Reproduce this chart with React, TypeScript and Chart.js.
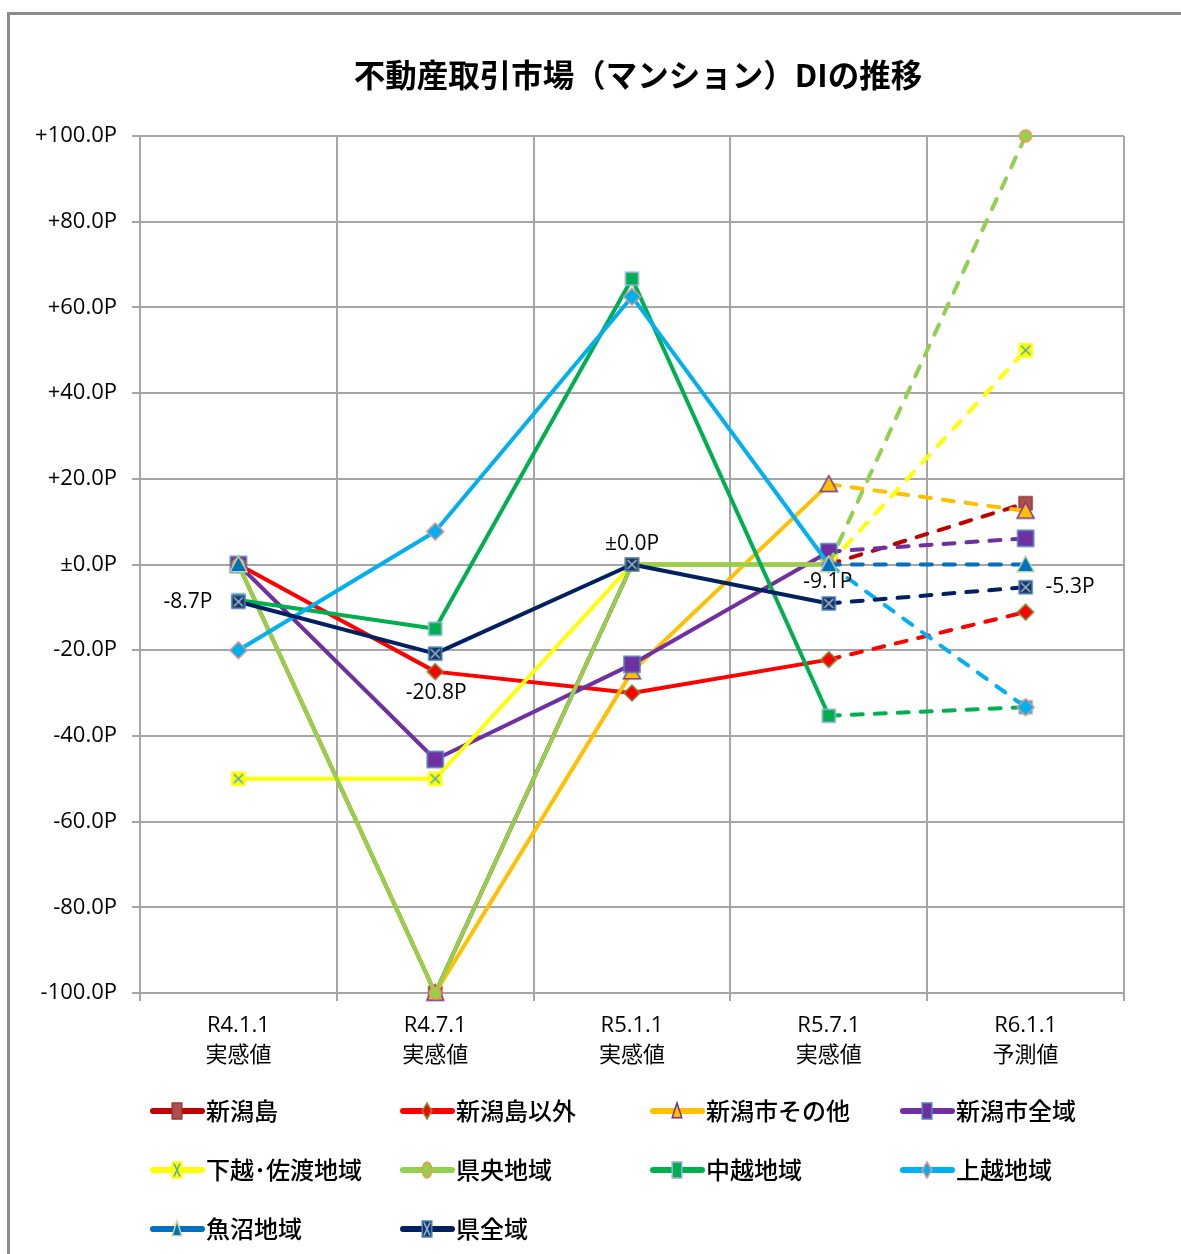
import React, { useEffect, useRef } from 'react';
import { Chart, registerables } from 'chart.js';

Chart.register(...registerables);

// ---- data ----
const categories: string[][] = [
  ['R4.1.1', '実感値'],
  ['R4.7.1', '実感値'],
  ['R5.1.1', '実感値'],
  ['R5.7.1', '実感値'],
  ['R6.1.1', '予測値'],
];
const seriesNames = [
  '新潟島', '新潟島以外', '新潟市その他', '新潟市全域', '下越･佐渡地域',
  '県央地域', '中越地域', '上越地域', '魚沼地域', '県全域',
];
const niigataJima = [0, -100, 0, 0, 14.3];
const niigataJimaIgai = [0, -25, -30, -22.2, -11.1];
const niigataShiSonota = [0, -100, -25, 18.75, 12.5];
const niigataShiZeniki = [0, -45.5, -23.3, 3.0, 6.1];
const kaetsuSado = [-50, -50, 0, 0, 50];
const kenou = [0, -100, 0, 0, 100];
const chuetsu = [-8.3, -15, 66.7, -35.3, -33.3];
const joetsu = [-20, 7.7, 62.5, 0, -33.3];
const uonuma = [0, null, null, 0, 0];
const kenZeniki = [-8.7, -20.8, 0, -9.1, -5.3];
const yTicks = [-100, -80, -60, -40, -20, 0, 20, 40, 60, 80, 100];

const seriesValues = [
  niigataJima, niigataJimaIgai, niigataShiSonota, niigataShiZeniki, kaetsuSado,
  kenou, chuetsu, joetsu, uonuma, kenZeniki,
];

// ---- styles ----
type Mk = { kind: string; size: number; fill: string; stroke: string; x?: string };
const lineColors = [
  '#C00000', '#FF0000', '#FFC000', '#7030A0', '#FFFF00',
  '#92D050', '#00B050', '#00B0F0', '#0070C0', '#002060',
];
const markers: Mk[] = [
  { kind: 'square', size: 13, fill: '#B0504D', stroke: '#8E3C3A' },
  { kind: 'diamond', size: 16, fill: '#FF0000', stroke: '#77933C' },
  { kind: 'triangle', size: 17, fill: '#FFC000', stroke: '#7030A0' },
  { kind: 'square', size: 16, fill: '#7030A0', stroke: '#4F81BD' },
  { kind: 'xbox', size: 13, fill: '#FFFF00', stroke: '#FFFF00', x: '#4BACC6' },
  { kind: 'circle', size: 12, fill: '#92D050', stroke: '#F79646' },
  { kind: 'square', size: 13, fill: '#00B050', stroke: '#95B3D7' },
  { kind: 'diamond', size: 17, fill: '#00B0F0', stroke: '#D99694' },
  { kind: 'triangle', size: 17, fill: '#0070C0', stroke: '#C3D69B' },
  { kind: 'xbox', size: 13, fill: '#17375E', stroke: '#4F81BD', x: '#95B3D7' },
];

function drawMarker(ctx: CanvasRenderingContext2D, m: Mk, cx: number, cy: number, sx = 1) {
  const h = m.size / 2;
  const hx = h * sx;
  ctx.save();
  ctx.lineWidth = 1.5;
  ctx.fillStyle = m.fill;
  ctx.strokeStyle = m.stroke;
  ctx.beginPath();
  if (m.kind === 'square' || m.kind === 'xbox') {
    ctx.rect(cx - hx, cy - h, 2 * hx, 2 * h);
  } else if (m.kind === 'diamond') {
    ctx.moveTo(cx, cy - h);
    ctx.lineTo(cx + hx, cy);
    ctx.lineTo(cx, cy + h);
    ctx.lineTo(cx - hx, cy);
    ctx.closePath();
  } else if (m.kind === 'triangle') {
    ctx.moveTo(cx, cy - h);
    ctx.lineTo(cx + hx, cy + h * 0.85);
    ctx.lineTo(cx - hx, cy + h * 0.85);
    ctx.closePath();
  } else if (m.kind === 'circle') {
    ctx.ellipse(cx, cy, hx, h, 0, 0, Math.PI * 2);
  }
  ctx.fill();
  ctx.stroke();
  if (m.kind === 'xbox' && m.x) {
    ctx.beginPath();
    ctx.strokeStyle = m.x;
    ctx.lineWidth = 1.6;
    const k = h - 2;
    const kx = hx - 2;
    ctx.moveTo(cx - kx, cy - k);
    ctx.lineTo(cx + kx, cy + k);
    ctx.moveTo(cx + kx, cy - k);
    ctx.lineTo(cx - kx, cy + k);
    ctx.stroke();
  }
  ctx.restore();
}

function markerCanvas(m: Mk): HTMLCanvasElement {
  const c = document.createElement('canvas');
  const s = Math.ceil(m.size + 4);
  c.width = s;
  c.height = s;
  const ctx = c.getContext('2d')!;
  drawMarker(ctx, m, s / 2, s / 2);
  return c;
}

const NUM_FONT = '"Open Sans", "Noto Sans CJK JP", sans-serif';
const JP_FONT = '"Noto Sans CJK JP", sans-serif';

function fmt(v: number): string {
  if (v > 0) return '+' + v.toFixed(1) + 'P';
  if (v === 0) return '±0.0P';
  return v.toFixed(1) + 'P';
}

const labelOffsets = [
  { dx: -26, dy: 0, align: 'right' },
  { dx: 1, dy: 39, align: 'center' },
  { dx: 0, dy: -20, align: 'center' },
  { dx: -1, dy: -21, align: 'center' },
  { dx: 20, dy: 0, align: 'left' },
];

export default function App() {
  const ref = useRef<HTMLCanvasElement | null>(null);
  useEffect(() => {
    if (!ref.current) return;
    const datasets = seriesValues.map((vals, i) => ({
      label: seriesNames[i],
      data: vals,
      borderColor: lineColors[i],
      backgroundColor: lineColors[i],
      borderWidth: 4,
      borderCapStyle: 'round' as const,
      borderJoinStyle: 'round' as const,
      pointStyle: markerCanvas(markers[i]),
      pointRadius: 7,
      pointHoverRadius: 7,
      tension: 0,
      spanGaps: false,
      clip: false,
      order: -i,
      segment: {
        borderDash: (c: any) => (c.p0DataIndex === 3 ? [11, 12] : undefined),
      },
    }));

    const titlePlugin = {
      id: 'customTitle',
      afterDraw(chart: any) {
        const ctx = chart.ctx;
        ctx.save();
        ctx.font = 'bold 31.5px ' + JP_FONT;
        ctx.fillStyle = '#000';
        ctx.textAlign = 'center';
        ctx.textBaseline = 'middle';
        ctx.fillText('不動産取引市場（マンション）DIの推移', 628, 60);
        ctx.restore();
      },
    };

    const dataLabelPlugin = {
      id: 'dataLabels',
      afterDatasetsDraw(chart: any) {
        const meta = chart.getDatasetMeta(9);
        const ctx = chart.ctx;
        ctx.save();
        ctx.font = '21px ' + NUM_FONT;
        ctx.fillStyle = '#000';
        ctx.textBaseline = 'middle';
        meta.data.forEach((pt: any, i: number) => {
          const o = labelOffsets[i];
          ctx.textAlign = o.align;
          ctx.fillText(fmt(kenZeniki[i]), pt.x + o.dx, pt.y + o.dy);
        });
        ctx.restore();
      },
    };

    const legendPlugin = {
      id: 'gridLegend',
      afterDraw(chart: any) {
        const ctx = chart.ctx;
        ctx.save();
        seriesNames.forEach((name, i) => {
          const col = i % 4;
          const row = Math.floor(i / 4);
          const x0 = 140 + col * 250;
          const y = 1096 + row * 59;
          ctx.beginPath();
          ctx.strokeStyle = lineColors[i];
          ctx.lineWidth = 6;
          ctx.lineCap = 'round';
          ctx.moveTo(x0 + 3, y);
          ctx.lineTo(x0 + 52, y);
          ctx.stroke();
          drawMarker(ctx, { ...markers[i], size: 16 }, x0 + 27, y, 0.6);
          ctx.font = '500 24px ' + JP_FONT;
          ctx.fillStyle = '#000';
          ctx.textAlign = 'left';
          ctx.textBaseline = 'middle';
          ctx.fillText(name, x0 + 56, y);
        });
        ctx.restore();
      },
    };

    const chart = new Chart(ref.current, {
      type: 'line',
      data: { labels: categories, datasets },
      plugins: [titlePlugin, dataLabelPlugin, legendPlugin],
      options: {
        responsive: false,
        animation: false,
        layout: { padding: { top: 121, right: 57, bottom: 171, left: 0 } },
        plugins: {
          legend: { display: false },
          title: { display: false },
          tooltip: { enabled: false },
        },
        scales: {
          x: {
            offset: true,
            grid: { color: '#A6A6A6', lineWidth: 2, offset: true, tickLength: 8 },
            border: { color: '#A6A6A6', width: 2 },
            ticks: {
              color: '#000',
              padding: 10,
              font: { family: NUM_FONT, size: 22, lineHeight: 1.37 },
              maxRotation: 0,
              autoSkip: false,
            },
            afterFit: (s: any) => { s.height = 90; },
          },
          y: {
            min: -100,
            max: 100,
            afterBuildTicks: (s: any) => { s.ticks = yTicks.map((v) => ({ value: v })); },
            grid: { color: '#A6A6A6', lineWidth: 2, tickLength: 8 },
            border: { color: '#A6A6A6', width: 2 },
            ticks: {
              color: '#000',
              padding: 15,
              font: { family: NUM_FONT, size: 22 },
              callback: (v: any) => fmt(Number(v)),
            },
            afterFit: (s: any) => { s.width = 130; },
          },
        },
      },
    } as any);
    return () => chart.destroy();
  }, []);

  return (
    <div
      style={{
        position: 'absolute',
        left: 7,
        top: 12,
        width: 1174,
        height: 1242,
        borderTop: '3px solid #8C8C8C',
        borderLeft: '3px solid #8C8C8C',
        boxSizing: 'border-box',
        overflow: 'hidden',
        background: '#fff',
      }}
    >
      <canvas ref={ref} width={1171} height={1239} style={{ display: 'block' }} />
    </div>
  );
}
